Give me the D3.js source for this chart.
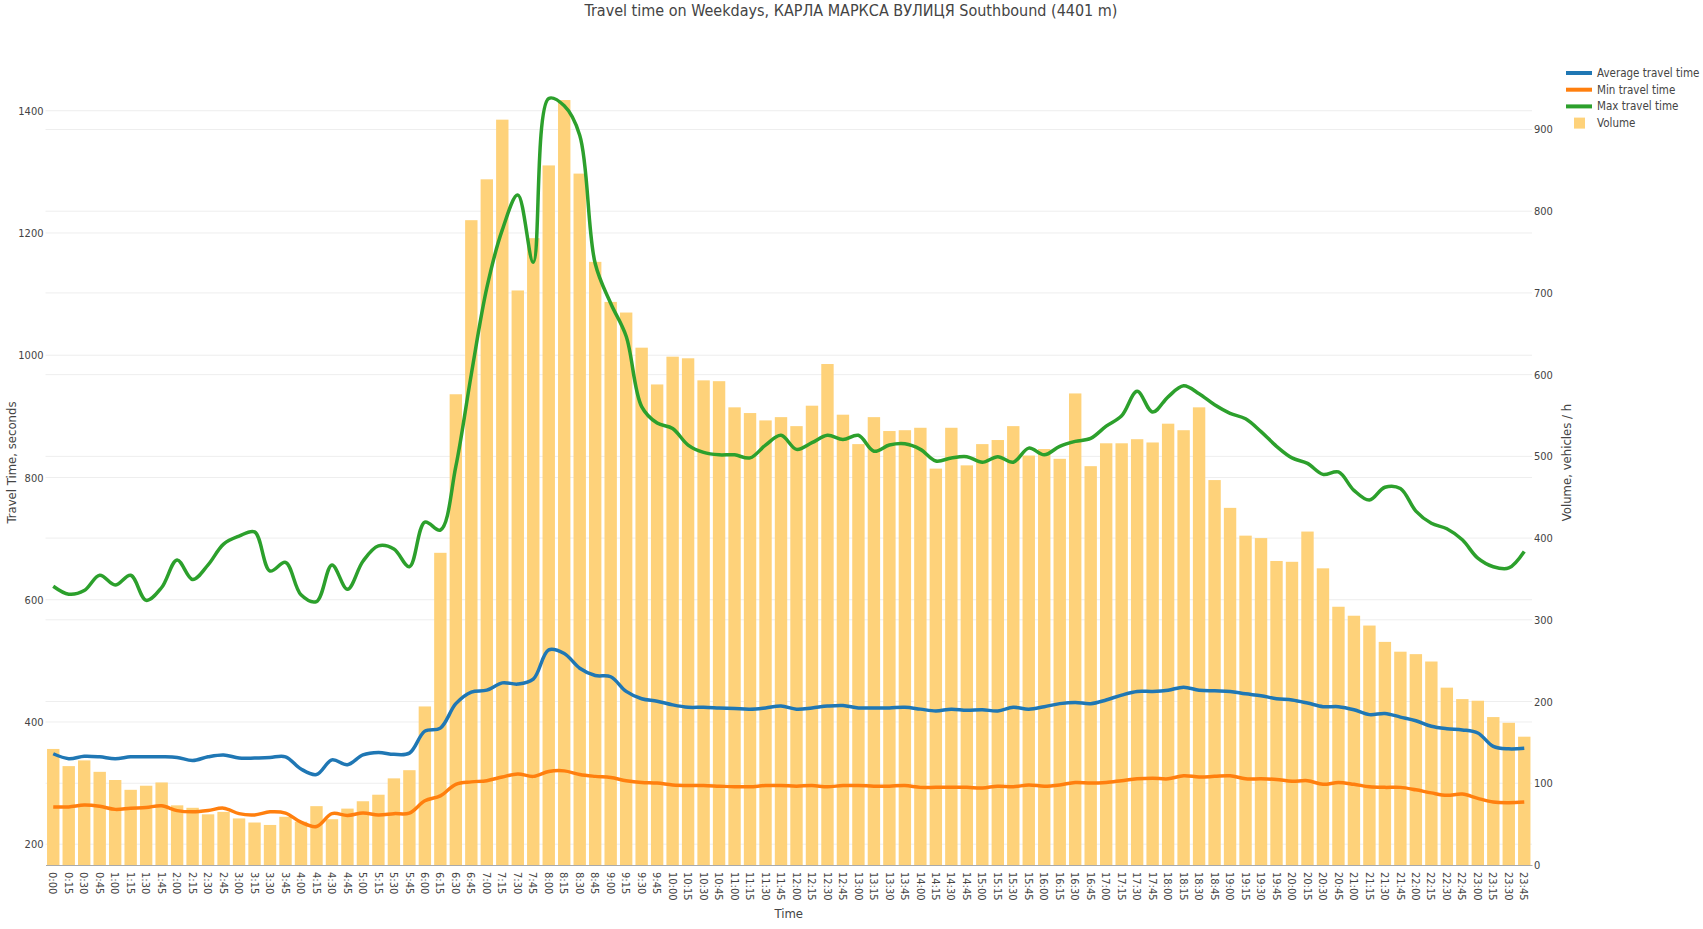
<!DOCTYPE html>
<html>
<head>
<meta charset="utf-8">
<script src="https://cdn.jsdelivr.net/npm/d3@7"></script>
<style>
  body { margin: 0; background: #fff; }
  svg text { font-family: "DejaVu Sans Condensed", "DejaVu Sans", sans-serif; fill: #444; }
</style>
</head>
<body>
<svg id="chart" width="1703" height="929"></svg>
<script>
const times = ['0:00','0:15','0:30','0:45','1:00','1:15','1:30','1:45','2:00','2:15','2:30','2:45',
    '3:00','3:15','3:30','3:45','4:00','4:15','4:30','4:45','5:00','5:15','5:30','5:45',
    '6:00','6:15','6:30','6:45','7:00','7:15','7:30','7:45','8:00','8:15','8:30','8:45',
    '9:00','9:15','9:30','9:45','10:00','10:15','10:30','10:45','11:00','11:15','11:30','11:45',
    '12:00','12:15','12:30','12:45','13:00','13:15','13:30','13:45','14:00','14:15','14:30','14:45',
    '15:00','15:15','15:30','15:45','16:00','16:15','16:30','16:45','17:00','17:15','17:30','17:45',
    '18:00','18:15','18:30','18:45','19:00','19:15','19:30','19:45','20:00','20:15','20:30','20:45',
    '21:00','21:15','21:30','21:45','22:00','22:15','22:30','22:45','23:00','23:15','23:30','23:45'];

// vehicles / h
const volume = [142,121,128,114,104,92,97,101, 73,70,62,65,57,52,49,59,
    53,72,56,69,78,86,106,116, 194,382,576,789,839,912,703,767,
    856,936,846,738,689,676,633,588, 622,620,593,592,560,553,544,548,
    537,562,613,551,515,548,531,532, 535,485,535,489,515,520,537,501,
    509,497,577,488,516,516,521,517, 540,532,560,471,437,403,400,372,
    371,408,363,316,305,293,273,261, 258,249,217,203,201,181,174,157];

// seconds
const avgTime = [348,340,344,343,340,343,343,343, 342,337,343,346,341,341,342,343,
    323,314,338,330,346,350,347,349, 385,390,430,449,452,464,462,470,
    518,512,488,476,474,450,438,434, 428,424,424,423,422,421,423,426,
    421,423,426,427,423,423,423,424, 421,418,421,419,420,418,424,421,
    425,430,432,430,436,444,450,450, 452,457,452,451,450,446,443,438,
    436,431,425,425,420,412,414,408, 402,393,389,387,382,360,356,357];

const minTime = [261,261,264,262,257,259,260,263, 255,253,255,259,250,248,253,251,
    236,229,250,247,251,248,250,251, 271,279,298,302,304,310,315,311,
    319,320,314,311,309,304,301,300, 297,296,296,295,294,294,296,296,
    295,296,294,296,296,295,295,296, 293,293,293,293,292,295,294,297,
    295,297,301,300,301,304,307,308, 307,312,310,311,312,307,307,306,
    303,304,298,301,298,294,293,293, 289,284,280,282,275,269,268,269];

const maxTime = [622,609,615,640,624,640,599,620, 665,633,657,691,704,711,647,661,
    608,597,657,617,663,688,683,654, 727,714,818,969,1110,1205,1262,1152,
    1420,1408,1360,1150,1085,1031,916,889, 880,853,841,837,837,832,853,869,
    846,857,869,862,869,843,853,855, 846,827,832,834,825,834,825,848,
    837,851,859,864,884,901,941,907, 932,950,937,919,905,896,875,851,
    832,823,805,809,779,763,784,782, 745,725,716,698,668,654,652,679];

const leftTicks = [200,400,600,800,1000,1200,1400];
const rightTicks = [0,100,200,300,400,500,600,700,800,900];

const series = [
    {name: 'Average travel time', values: avgTime, color: '#1f77b4'},
    {name: 'Min travel time', values: minTime, color: '#ff7f0e'},
    {name: 'Max travel time', values: maxTime, color: '#2ca02c'}
];

let svg = d3.select('#chart');
let plot = {'l': 45.5, 'r': 1532, 't': 60, 'b': 865};

let x = d3.scaleBand().domain(times).range([plot.l, plot.r]).paddingInner(0.2).paddingOuter(0.1);
let yLeft = d3.scaleLinear().domain([166, 1483]).range([plot.b, plot.t]);
let yRight = d3.scaleLinear().domain([0, 985]).range([plot.b, plot.t]);
let cx = (t) => x(t) + x.bandwidth() / 2;

// grid ----------------------------------------------------------------------
svg.append('g').selectAll('line').data(rightTicks.slice(1)).enter().append('line')
    .attr('x1', plot.l).attr('x2', plot.r)
    .attr('y1', (d) => yRight(d)).attr('y2', (d) => yRight(d))
    .attr('stroke', '#eee').attr('stroke-width', 1);
svg.append('g').selectAll('line').data(leftTicks).enter().append('line')
    .attr('x1', plot.l).attr('x2', plot.r)
    .attr('y1', (d) => yLeft(d)).attr('y2', (d) => yLeft(d))
    .attr('stroke', '#eee').attr('stroke-width', 1);

// bars ----------------------------------------------------------------------
svg.append('g').selectAll('rect').data(volume).enter().append('rect')
    .attr('x', (d, i) => x(times[i]))
    .attr('width', x.bandwidth())
    .attr('y', (d) => yRight(d))
    .attr('height', (d) => yRight(0) - yRight(d))
    .attr('fill', '#fed27a');

// lines ---------------------------------------------------------------------
let line = d3.line()
    .x((d, i) => cx(times[i]))
    .y((d) => yLeft(d))
    .curve(d3.curveCatmullRom.alpha(0.5));

series.map((s) => {
    svg.append('path')
        .datum(s.values)
        .attr('fill', 'none')
        .attr('stroke', s.color)
        .attr('stroke-width', 3.5)
        .attr('stroke-linejoin', 'round')
        .attr('d', line);
});

// axes ----------------------------------------------------------------------
let xAxis = svg.append('g').attr('transform', 'translate(0,' + plot.b + ')')
    .call(d3.axisBottom(x).tickSize(0).tickPadding(0));
xAxis.select('.domain').attr('stroke', '#aaa').attr('stroke-width', 1.2);
xAxis.selectAll('.tick text')
    .attr('transform', 'rotate(90)')
    .attr('x', 7).attr('y', 0).attr('dy', '0.35em')
    .style('text-anchor', 'start')
    .style('font-size', '11px').style('fill', '#444');

let leftAxis = svg.append('g').attr('transform', 'translate(' + plot.l + ',0)')
    .call(d3.axisLeft(yLeft).tickValues(leftTicks).tickFormat(d3.format('d')).tickSize(0).tickPadding(2));
leftAxis.select('.domain').remove();
leftAxis.selectAll('.tick text').style('font-size', '11px').style('fill', '#444');

let rightAxis = svg.append('g').attr('transform', 'translate(' + plot.r + ',0)')
    .call(d3.axisRight(yRight).tickValues(rightTicks).tickFormat(d3.format('d')).tickSize(0).tickPadding(2));
rightAxis.select('.domain').remove();
rightAxis.selectAll('.tick text').style('font-size', '11px').style('fill', '#444');

// titles --------------------------------------------------------------------
svg.append('text')
    .attr('x', 851).attr('y', 16)
    .attr('text-anchor', 'middle')
    .style('font-size', '16px')
    .text('Travel time on Weekdays, КАРЛА МАРКСА ВУЛИЦЯ Southbound (4401 m)');

svg.append('text')
    .attr('x', (plot.l + plot.r) / 2).attr('y', 913).attr('dy', '0.35em')
    .attr('text-anchor', 'middle')
    .style('font-size', '13px')
    .text('Time');

svg.append('text')
    .attr('transform', 'translate(11,' + (plot.t + plot.b) / 2 + ') rotate(-90)')
    .attr('dy', '0.35em')
    .attr('text-anchor', 'middle')
    .style('font-size', '13px')
    .text('Travel Time, seconds');

svg.append('text')
    .attr('transform', 'translate(1566,' + (plot.t + plot.b) / 2 + ') rotate(-90)')
    .attr('dy', '0.35em')
    .attr('text-anchor', 'middle')
    .style('font-size', '13px')
    .text('Volume, vehicles / h');

// legend --------------------------------------------------------------------
let legend = svg.append('g').attr('transform', 'translate(1566,73)');
series.map((s, i) => {
    legend.append('line')
        .attr('x1', 0).attr('x2', 26)
        .attr('y1', i * 16.7).attr('y2', i * 16.7)
        .attr('stroke', s.color).attr('stroke-width', 4);
    legend.append('text')
        .attr('x', 31).attr('y', i * 16.7).attr('dy', '0.35em')
        .style('font-size', '11.5px')
        .text(s.name);
});
legend.append('rect')
    .attr('x', 8).attr('y', 3 * 16.7 - 5.5)
    .attr('width', 11).attr('height', 11)
    .attr('fill', '#fed27a');
legend.append('text')
    .attr('x', 31).attr('y', 3 * 16.7).attr('dy', '0.35em')
    .style('font-size', '11.5px')
    .text('Volume');
</script>
</body>
</html>
